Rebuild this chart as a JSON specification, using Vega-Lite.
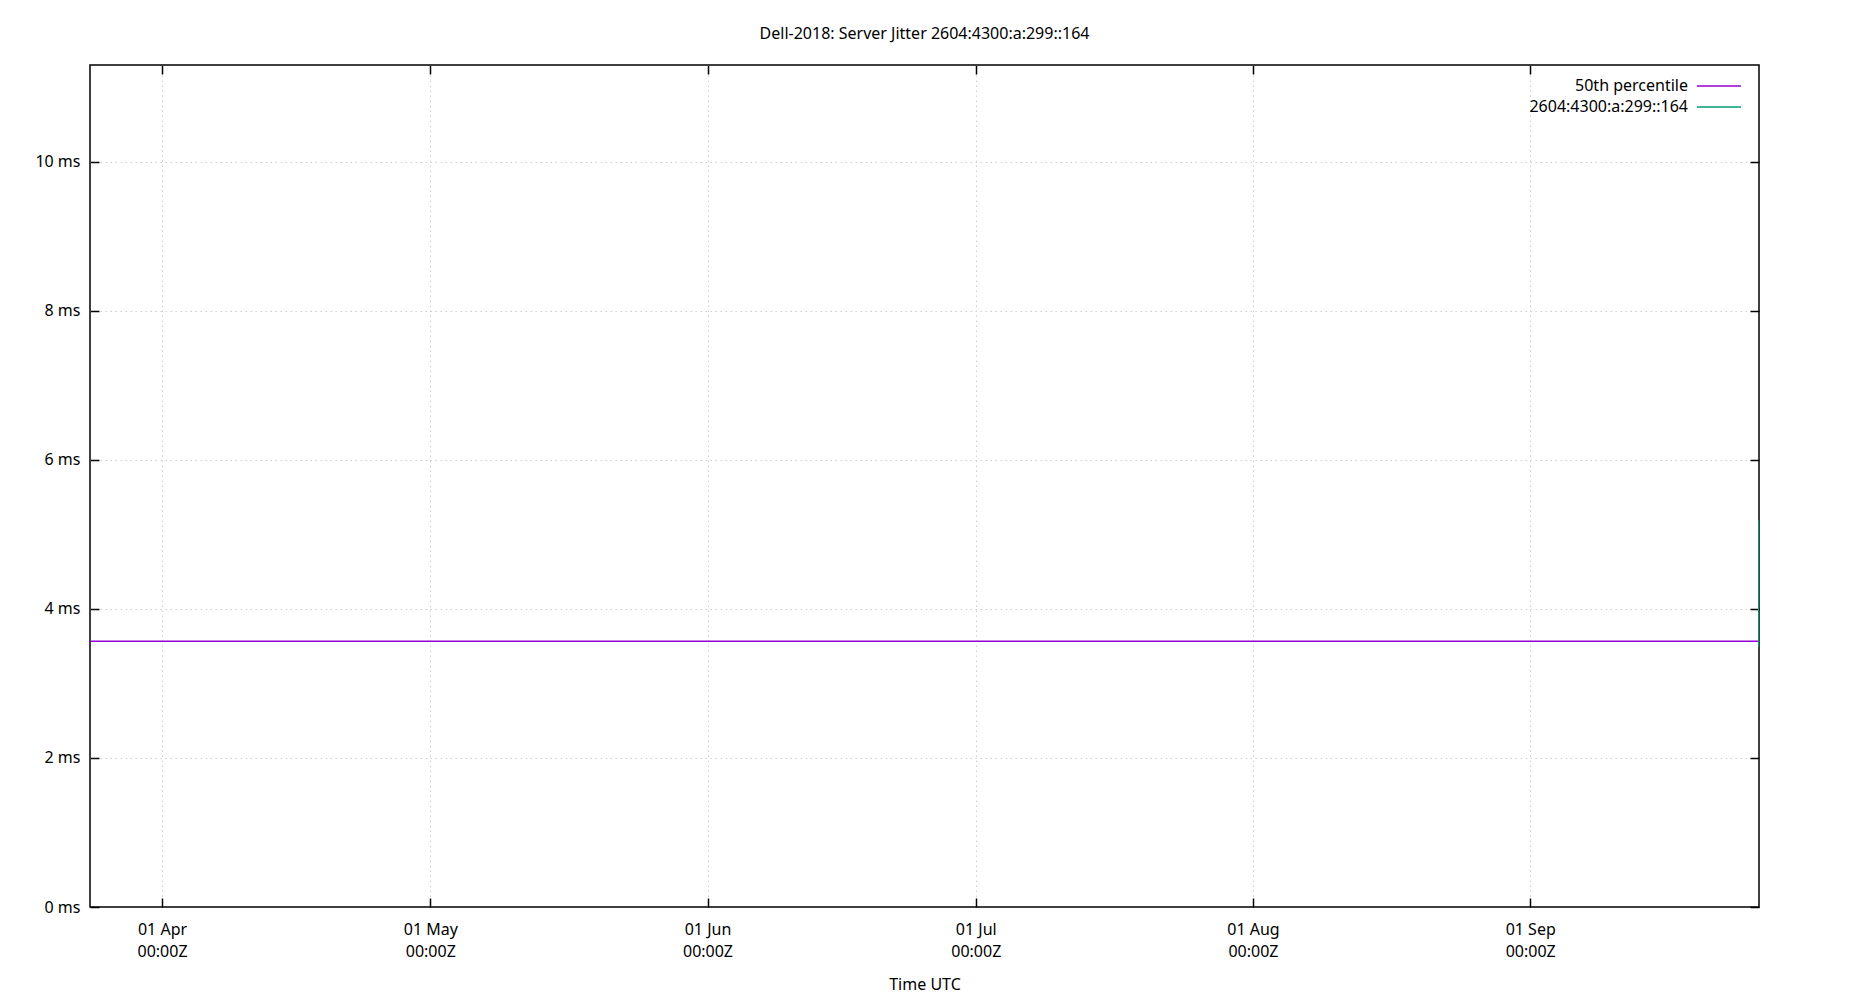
{
  "$schema": "https://vega.github.io/schema/vega-lite/v6.json",
  "width": 1669,
  "height": 842,
  "autosize": {"type": "none"},
  "padding": {"left": 90, "top": 65, "right": 91, "bottom": 93},
  "background": "white",
  "title": {
    "text": "Dell-2018: Server Jitter 2604:4300:a:299::164",
    "font": "Noto Sans",
    "fontSize": 16,
    "fontWeight": "normal",
    "color": "#000",
    "anchor": "middle",
    "offset": 22
  },
  "data": {
    "values": [
      {"time": "2023-03-23T22:00:00Z", "ms": 3.566, "series": "50th percentile"},
      {"time": "2023-09-26T16:00:00Z", "ms": 3.566, "series": "50th percentile"},
      {"time": "2023-09-26T13:20:00Z", "ms": 5.19, "series": "2604:4300:a:299::164"},
      {"time": "2023-09-26T13:21:00Z", "ms": 3.49, "series": "2604:4300:a:299::164"}
    ]
  },
  "layer": [
    {
      "mark": {"type": "line", "strokeWidth": 1.5, "clip": true},
      "encoding": {
        "x": {
          "field": "time",
          "type": "temporal",
          "scale": {
            "type": "utc",
            "nice": false,
            "domain": [
              {"year": 2023, "month": 3, "date": 23, "hours": 22, "minutes": 44, "utc": true},
              {"year": 2023, "month": 9, "date": 26, "hours": 14, "utc": true}
            ]
          },
          "axis": {
            "orient": "bottom",
            "values": [
              {"year": 2023, "month": 4, "date": 1, "utc": true},
              {"year": 2023, "month": 5, "date": 1, "utc": true},
              {"year": 2023, "month": 6, "date": 1, "utc": true},
              {"year": 2023, "month": 7, "date": 1, "utc": true},
              {"year": 2023, "month": 8, "date": 1, "utc": true},
              {"year": 2023, "month": 9, "date": 1, "utc": true}
            ],
            "labelExpr": "[utcFormat(datum.value, '%d %b'), '00:00Z']",
            "labelLineHeight": 22,
            "labelPadding": 23,
            "tickSize": -9,
            "title": "Time UTC",
            "titlePadding": 17
          }
        },
        "y": {
          "field": "ms",
          "type": "quantitative",
          "scale": {"domain": [0, 11.3], "nice": false},
          "axis": {
            "orient": "left",
            "values": [0, 2, 4, 6, 8, 10],
            "labelExpr": "datum.value + ' ms'",
            "labelPadding": 19,
            "tickSize": -9,
            "gridOpacity": {"condition": {"test": "datum.value === 0", "value": 0}, "value": 1},
            "title": null
          }
        },
        "color": {
          "field": "series",
          "type": "nominal",
          "scale": {
            "domain": ["50th percentile", "2604:4300:a:299::164"],
            "range": ["#9400d3", "#009e73"]
          },
          "legend": {
            "orient": "none",
            "legendX": 1618,
            "legendY": 10,
            "title": null,
            "padding": 0,
            "symbolType": "M-2.2,0H2.2",
            "symbolSize": 400,
            "symbolStrokeWidth": 1.5,
            "symbolFillColor": "transparent",
            "labelAlign": "right",
            "labelOffset": -42,
            "labelFontSize": 16,
            "labelFont": "Noto Sans",
            "labelColor": "#000",
            "rowPadding": 2
          }
        }
      }
    },
    {
      "mark": {"type": "line", "opacity": 0},
      "encoding": {
        "x": {
          "field": "time",
          "type": "temporal",
          "axis": {
            "orient": "top",
            "values": [
              {"year": 2023, "month": 4, "date": 1, "utc": true},
              {"year": 2023, "month": 5, "date": 1, "utc": true},
              {"year": 2023, "month": 6, "date": 1, "utc": true},
              {"year": 2023, "month": 7, "date": 1, "utc": true},
              {"year": 2023, "month": 8, "date": 1, "utc": true},
              {"year": 2023, "month": 9, "date": 1, "utc": true}
            ],
            "labels": false,
            "grid": false,
            "tickSize": -9,
            "title": null
          }
        },
        "y": {
          "field": "ms",
          "type": "quantitative",
          "axis": {
            "orient": "right",
            "values": [0, 2, 4, 6, 8, 10],
            "labels": false,
            "grid": false,
            "tickSize": -9,
            "title": null
          }
        },
        "detail": {"field": "series"}
      }
    }
  ],
  "resolve": {"axis": {"x": "independent", "y": "independent"}},
  "config": {
    "font": "Noto Sans",
    "view": {"stroke": "#000", "strokeWidth": 1.5},
    "axis": {
      "domain": false,
      "grid": true,
      "gridColor": "#cfcfcf",
      "gridDash": [1.5, 3.5],
      "gridWidth": 1,
      "tickColor": "#000",
      "tickWidth": 1.5,
      "labelFont": "Noto Sans",
      "labelFontSize": 16,
      "labelColor": "#000",
      "titleFont": "Noto Sans",
      "titleFontSize": 16,
      "titleFontWeight": "normal",
      "titleColor": "#000"
    }
  }
}
